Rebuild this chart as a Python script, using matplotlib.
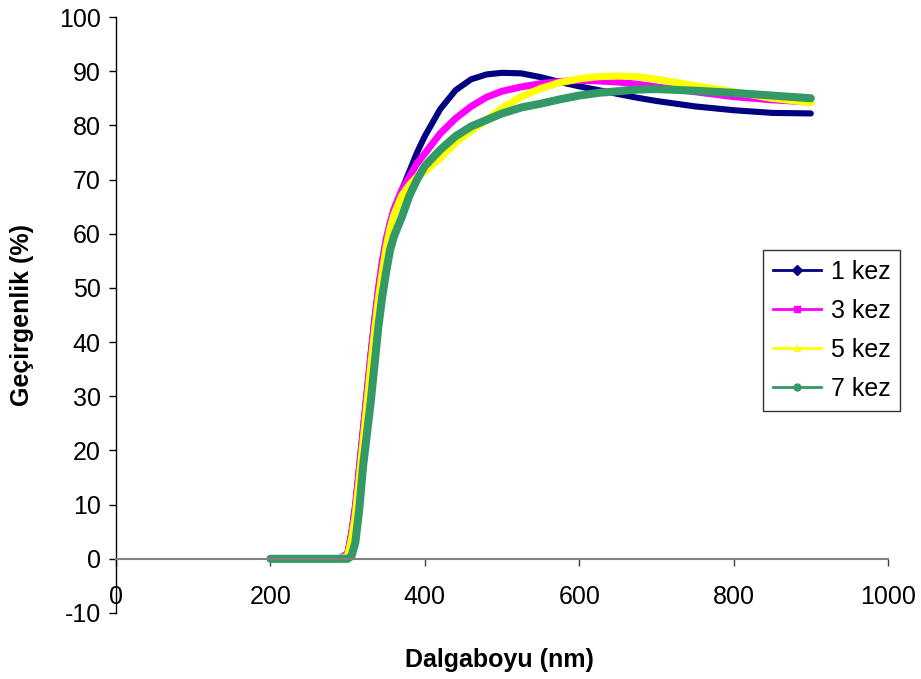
import matplotlib
matplotlib.use('Agg')
import matplotlib.pyplot as plt
from matplotlib.lines import Line2D

plt.rcParams['font.family'] = ['Liberation Sans', 'DejaVu Sans']
plt.rcParams['axes.unicode_minus'] = False

# wavelength (nm) and transmittance (%)
wavelength = [200, 250, 290, 300, 305, 310, 315, 320, 325, 330, 335, 340, 345, 350,
              355, 360, 370, 380, 390, 400, 420, 440, 460, 480, 500, 525, 550, 575,
              600, 625, 650, 675, 700, 750, 800, 850, 900]

kez_1 = [0, 0, 0, 1, 5, 10, 17, 24, 31, 38, 44.5, 50, 55, 59,
         62, 64.5, 68, 71.5, 75, 78, 83, 86.5, 88.5, 89.4, 89.7, 89.6, 88.9, 88.0,
         87.2, 86.5, 85.8, 85.1, 84.5, 83.5, 82.8, 82.3, 82.2]
kez_3 = [0, 0, 0, 1, 4.5, 9.5, 16.5, 23.5, 30.5, 37.5, 44, 50, 55, 59,
         62, 64.5, 68, 70.5, 73, 74.8, 78.5, 81.3, 83.5, 85.2, 86.3, 87.1, 87.7, 88.1,
         88.3, 88.2, 88.0, 87.6, 87.1, 86.2, 85.3, 84.7, 84.3]
kez_5 = [0, 0, 0, 0.5, 3.5, 8, 14.5, 21.5, 28.5, 35.5, 42, 48, 53, 57.5,
         61, 63.5, 67, 69, 70.5, 71.5, 74, 76.8, 79, 81, 83.2, 85.3, 86.8, 87.9,
         88.6, 89.0, 89.1, 89.0, 88.5, 87.3, 86.2, 85.0, 84.2]
kez_7 = [0, 0, 0, 0, 0.5, 3, 9, 17, 23, 29, 36, 43, 48.5, 53,
         57, 59.5, 63, 67, 70, 72.5, 75.5, 78, 79.8, 81, 82.2, 83.3, 84, 84.8,
         85.5, 86, 86.3, 86.6, 86.7, 86.4, 86, 85.5, 85]

labels = ['1 kez', '3 kez', '5 kez', '7 kez']
colors = ['#000080', '#FF00FF', '#FFFF00', '#339966']
markers = ['D', 's', '^', 'o']
widths = [4.4, 5.0, 5.2, 5.8]

fig = plt.figure(figsize=(9.21, 6.79), dpi=100)
ax = fig.add_axes([116 / 921, 1 - 613 / 679, 772 / 921, 596 / 679])

for ys, c, lw in zip([kez_1, kez_3, kez_5, kez_7], colors, widths):
    ax.plot(wavelength, ys, color=c, lw=lw, solid_capstyle='round', solid_joinstyle='round')

ax.set_xlim(0, 1000)
ax.set_ylim(-10, 100)
ax.set_xticks(range(0, 1001, 200))
ax.set_yticks(range(-10, 101, 10))

ax.spines['top'].set_visible(False)
ax.spines['right'].set_visible(False)
ax.spines['bottom'].set_position(('data', 0))
ax.spines['bottom'].set_color('#808080')
ax.spines['bottom'].set_linewidth(1.5)
ax.spines['left'].set_linewidth(1.0)

ax.tick_params(axis='y', direction='out', length=5, width=1, pad=6, labelsize=18)
ax.tick_params(axis='x', direction='out', length=5, width=1, pad=14, labelsize=18, color='#404040')

ax.set_xlabel('Dalgaboyu (nm)', fontsize=18, fontweight='bold')
ax.set_ylabel('Geçirgenlik (%)', fontsize=18, fontweight='bold')
ax.xaxis.set_label_coords(0.497, -0.058)
ax.yaxis.set_label_coords(-0.106, 0.5)

handles = [Line2D([0], [0], color=c, marker=m, lw=2, markersize=5)
           for c, m in zip(colors, markers)]
leg = ax.legend(handles, labels, loc='upper left',
                bbox_to_anchor=(763 / 921, 1 - 250 / 679), bbox_transform=fig.transFigure,
                fontsize=18, frameon=True, fancybox=False, borderaxespad=0,
                handlelength=1.9, handletextpad=0.4, labelspacing=0.6,
                borderpad=0.4)
leg.get_frame().set_edgecolor('#000000')
leg.get_frame().set_linewidth(1.0)

fig.savefig('out.png', dpi=100)
